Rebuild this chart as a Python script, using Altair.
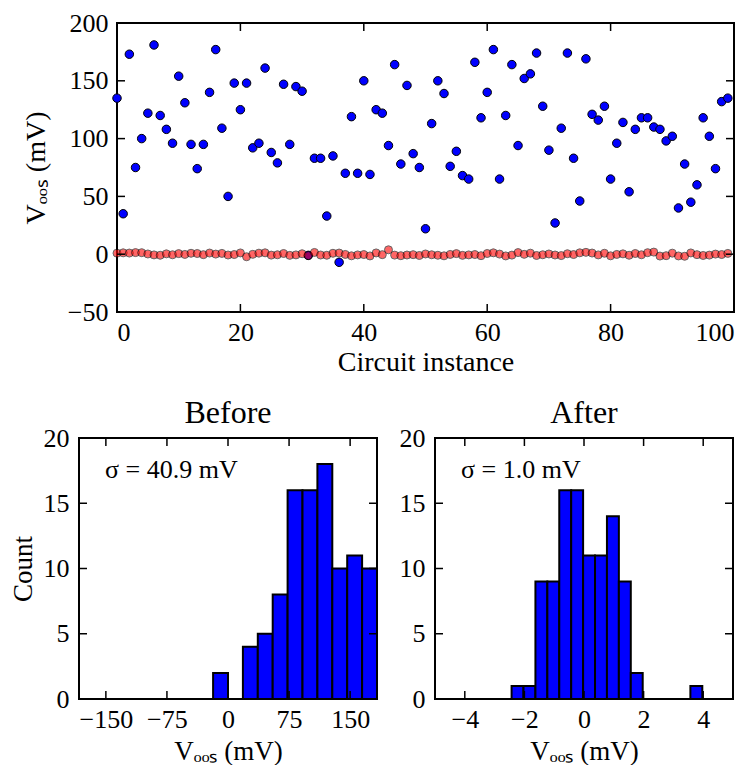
import altair as alt
import pandas as pd

FONT = "Liberation Serif"

# ---------------- data ----------------
instance = list(range(100))
before_mv = [135, 35, 173, 75, 100, 122, 181, 120, 108, 96,
             154, 131, 95, 74, 95, 140, 177, 109, 50, 148,
             125, 148, 92, 96, 161, 88, 79, 147, 95, 145,
             141, -1, 83, 83, 33, 85, -7, 70, 119, 70,
             150, 69, 125, 122, 94, 164, 78, 146, 87, 75,
             22, 113, 150, 139, 76, 89, 68, 65, 166, 118,
             140, 177, 65, 120, 164, 94, 152, 156, 174, 128,
             90, 27, 109, 174, 83, 46, 169, 121, 116, 128,
             65, 96, 114, 54, 108, 118, 118, 110, 108, 98,
             102, 40, 78, 45, 60, 118, 102, 74, 132, 135]
after_mv = [0.9, 1.2, 1.0, 1.4, 1.3, 0.2, -0.6, -0.9, 0.3, -0.5,
            0.5, -0.2, 0.8, 0.6, -0.4, 1.0, 0.1, 0.7, -0.7, -0.3,
            1.1, -2.2, -0.1, 0.9, 1.2, -0.8, -0.5, 0.6, -1.0, -0.6,
            0.4, -1.2, 1.5, -0.7, -0.9, 0.8, 1.0, -0.2, -1.4, -0.6,
            -0.3, -1.5, 1.1, -0.4, 3.8, -0.8, -1.3, -0.7, -0.4, -1.1,
            0.2, -0.5, -0.9, -1.4, -0.2, 0.5, -1.0, -0.6, -0.3, -1.3,
            0.6, 1.2, 0.1, -1.5, -0.8, 1.4, -0.1, 0.9, -1.1, -0.5,
            0.2, -0.7, -1.2, 0.4, -0.3, 1.2, 1.6, 1.0, -0.6, 0.8,
            -1.4, -0.2, 0.3, -0.9, 0.6, -0.5, 1.3, 1.8, -1.6, -1.3,
            0.9, -1.5, -1.8, 1.1, -0.4, -1.1, -0.8, 0.1, -0.3, 0.7]

before_bin_lo = [-183.0, -164.7, -146.4, -128.1, -109.8, -91.5, -73.2, -54.9, -36.6, -18.3,
                 0.0, 18.3, 36.6, 54.9, 73.2, 91.5, 109.8, 128.1, 146.4, 164.7]
before_bin_hi = [-164.7, -146.4, -128.1, -109.8, -91.5, -73.2, -54.9, -36.6, -18.3, 0.0,
                 18.3, 36.6, 54.9, 73.2, 91.5, 109.8, 128.1, 146.4, 164.7, 183.0]
before_counts = [0, 0, 0, 0, 0, 0, 0, 0, 0, 2, 0, 4, 5, 8, 16, 16, 18, 10, 11, 10]

after_bin_lo = [-2.43, -2.03, -1.63, -1.23, -0.83, -0.43, -0.03, 0.37, 0.77, 1.17,
                1.57, 1.97, 2.37, 2.77, 3.17, 3.57]
after_bin_hi = [-2.03, -1.63, -1.23, -0.83, -0.43, -0.03, 0.37, 0.77, 1.17, 1.57,
                1.97, 2.37, 2.77, 3.17, 3.57, 3.97]
after_counts = [1, 1, 9, 9, 16, 16, 11, 11, 14, 9, 2, 0, 0, 0, 0, 1]

top_x_ticks = [0, 20, 40, 60, 80, 100]
top_y_ticks = [-50, 0, 50, 100, 150, 200]
before_x_ticks = [-150, -75, 0, 75, 150]
after_x_ticks = [-4, -2, 0, 2, 4]
hist_y_ticks = [0, 5, 10, 15, 20]

VOOS = "V\u2092\u2092\u209b (mV)"
TICK_LEN = 8


def inner_ticks(xvals, yvals, xsc, ysc, xaxis, yaxis, W, H):
    xt = alt.Chart(pd.DataFrame({"t": xvals}))
    yt = alt.Chart(pd.DataFrame({"t": yvals}))
    rule = dict(color="black", strokeWidth=1.5)
    xe = alt.X("t:Q", scale=xsc, axis=xaxis)
    ye = alt.Y("t:Q", scale=ysc, axis=yaxis)
    return [
        xt.mark_rule(**rule).encode(x=xe, y=alt.value(H), y2=alt.value(H - TICK_LEN)),
        xt.mark_rule(**rule).encode(x=xe, y=alt.value(0), y2=alt.value(TICK_LEN)),
        yt.mark_rule(**rule).encode(y=ye, x=alt.value(0), x2=alt.value(TICK_LEN)),
        yt.mark_rule(**rule).encode(y=ye, x=alt.value(W), x2=alt.value(W - TICK_LEN)),
    ]


# ---------------- top scatter ----------------
W1, H1 = 617, 289
xsc1 = alt.Scale(domain=[0, 100], nice=False, zero=False)
ysc1 = alt.Scale(domain=[-50, 200], nice=False, zero=False)
xax1 = alt.Axis(values=top_x_ticks, title="Circuit instance", format="d",
                labelPadding=7, titlePadding=3, titleFontSize=28)
yax1 = alt.Axis(values=top_y_ticks, title=VOOS, format="d",
                labelPadding=9, titlePadding=17, titleFontSize=28)

sdf = pd.DataFrame({"instance": instance, "before": before_mv, "after": after_mv})
blue = alt.Chart(sdf).mark_point(shape="circle", filled=True, size=72, fill="#0000ff",
                                 stroke="black", strokeWidth=1, opacity=1).encode(
    x=alt.X("instance:Q", scale=xsc1, axis=xax1),
    y=alt.Y("before:Q", scale=ysc1, axis=yax1))
red = alt.Chart(sdf).mark_point(shape="circle", filled=True, size=64, fill="#ff0000",
                                stroke="black", strokeWidth=1, opacity=0.6).encode(
    x=alt.X("instance:Q", scale=xsc1, axis=xax1),
    y=alt.Y("after:Q", scale=ysc1, axis=yax1))
top = alt.layer(blue, red, *inner_ticks(top_x_ticks, top_y_ticks, xsc1, ysc1, xax1, yax1, W1, H1)
                ).properties(width=W1, height=H1)

spacer = alt.Chart(pd.DataFrame({"a": [0]})).mark_point(opacity=0).encode(
    x=alt.value(0), y=alt.value(0)).properties(
    width=38, height=H1, view=alt.ViewBackground(strokeOpacity=0))


# ---------------- histograms ----------------
W2, H2 = 298, 261
hysc = alt.Scale(domain=[0, 20], nice=False, zero=False)


def hist(lo, hi, counts, domain, xticks, title, sigma, ytitle):
    xsc = alt.Scale(domain=domain, nice=False, zero=False)
    xax = alt.Axis(values=xticks, title=VOOS, format="d", labelPadding=7, titlePadding=6)
    yax = alt.Axis(values=hist_y_ticks, title=ytitle if ytitle else "", format="d",
                   labelPadding=10, titlePadding=6)
    df = pd.DataFrame({"lo": lo, "hi": hi, "count": counts})
    bars = alt.Chart(df).mark_rect(fill="#0000ff", stroke="black", strokeWidth=2).encode(
        x=alt.X("lo:Q", scale=xsc, axis=xax), x2="hi:Q",
        y=alt.Y("count:Q", scale=hysc, axis=yax), y2=alt.datum(0))
    txt = alt.Chart(pd.DataFrame({"s": [sigma]})).mark_text(
        align="left", baseline="alphabetic", font=FONT, fontSize=26, color="black").encode(
        x=alt.value(26), y=alt.value(40), text="s:N")
    return alt.layer(bars, txt, *inner_ticks(xticks, hist_y_ticks, xsc, hysc, xax, yax, W2, H2)
                     ).properties(width=W2, height=H2,
                                  title=alt.Title(title, font=FONT, fontSize=32,
                                                  fontWeight="normal", color="black", offset=-5))


before_h = hist(before_bin_lo, before_bin_hi, before_counts, [-183, 183], before_x_ticks,
                "Before", "\u03c3 = 40.9 mV", "Count")
after_h = hist(after_bin_lo, after_bin_hi, after_counts, [-5, 5], after_x_ticks,
               "After", "\u03c3 = 1.0 mV", None)

row1 = alt.hconcat(spacer, top, spacing=0, bounds="flush")
row2 = alt.hconcat(before_h, after_h, spacing=58, bounds="flush")

chart = alt.vconcat(row1, row2, spacing=19).properties(
    padding={"left": 0, "top": 1, "right": 5, "bottom": 0},
    background="white"
).configure_view(stroke="black", strokeWidth=2).configure_axis(
    labelFont=FONT, titleFont=FONT, labelFontSize=26, titleFontSize=27,
    labelColor="black", titleColor="black", titleFontWeight="normal",
    grid=False, ticks=False, domain=False
)

chart.save("out.html", embed_options={"renderer": "svg", "actions": False})
